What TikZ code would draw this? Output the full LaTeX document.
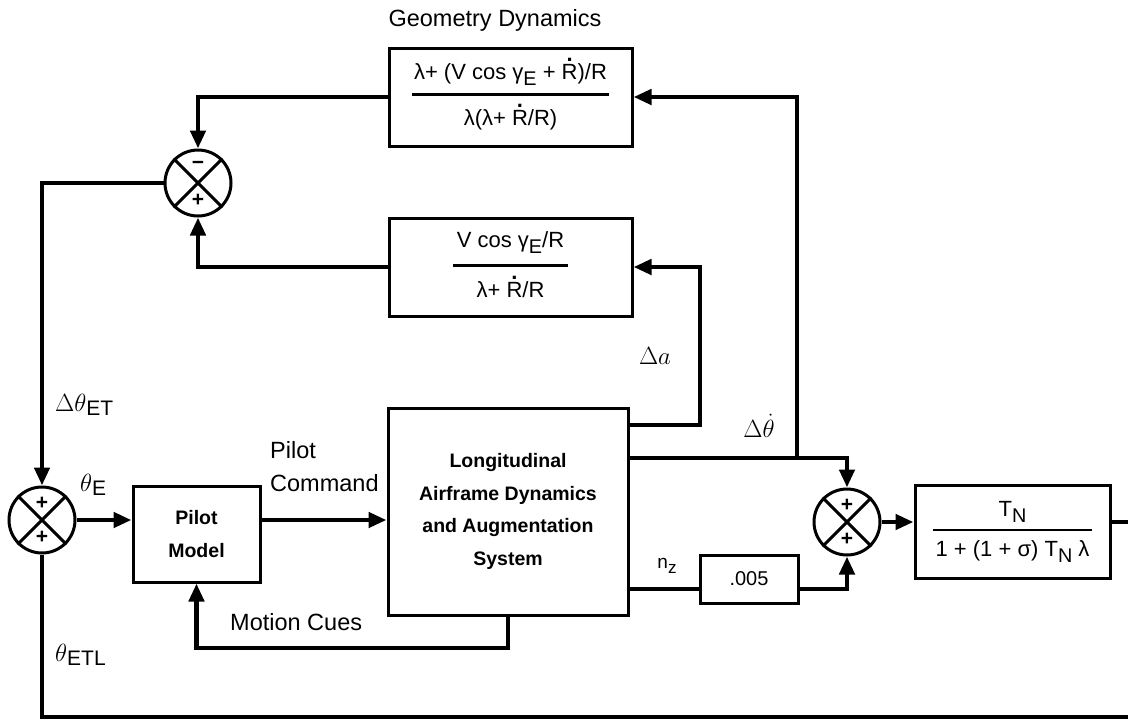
\documentclass[tikz,border=0pt]{standalone}
\usepackage[no-math]{fontspec}
\setmainfont{Liberation Sans}
\usepackage{amsmath}
\usepackage{graphicx}
\usetikzlibrary{arrows.meta,calc}
\newcommand\Rdt{\ooalign{R\cr\hidewidth\raisebox{0.8em}{\textbf{.}}\hidewidth\cr}}
\newcommand\sbs[1]{\raisebox{-0.28em}{\scalebox{0.9}{#1}}}
\newcommand\lsb[1]{\raisebox{-4pt}{\fontsize{21}{21}\selectfont #1}}
\newcommand\frc[5]{\begin{tabular}{@{\hspace{#3}}c@{\hspace{#3}}}#1\\\noalign{\vskip #4\hrule height 2.8pt\vskip #5}#2\end{tabular}}
\begin{document}
\begin{tikzpicture}[x=1pt,y=-1pt,
  box/.style={draw,line width=3pt,rectangle,inner sep=0pt,align=center,font=\fontsize{19.5}{32.5}\selectfont\bfseries},
  fbox/.style={draw,line width=3pt,rectangle,inner sep=0pt,align=center,font=\fontsize{22}{26}\selectfont},
  sumj/.style={draw,line width=3pt,circle,inner sep=0pt,minimum size=66pt},
  wire/.style={line width=4.5pt},
  arr/.style={wire,-{Triangle[length=18pt,width=15pt]}},
  lbl/.style={font=\fontsize{23.5}{28}\selectfont,inner sep=0pt},
  mlbl/.style={font=\fontsize{25}{28}\selectfont,inner sep=0pt},
  sgn/.style={font=\fontsize{21}{21}\selectfont\bfseries,inner sep=0pt},
]
\useasboundingbox (0,0) rectangle (1128,721);
% blocks
\node[fbox,minimum width=243pt,minimum height=98pt] (geo) at (510.5,97)
  {\frc{λ+ (V cos γ\sbs{E} + \Rdt)/R}{λ(λ+ \Rdt/R)}{2pt}{6pt}{11pt}};
\node[fbox,minimum width=243pt,minimum height=98pt] (cue) at (510.5,267)
  {\frc{V cos γ\sbs{E}/R}{λ+ \Rdt/R}{4pt}{9pt}{12pt}};
\node[box,minimum width=127pt,minimum height=96pt] (pilot) at (196.5,534) {Pilot\\Model};
\node[box,minimum width=240pt,minimum height=207pt] (af) at (508,511.5)
  {Longitudinal\\Airframe Dynamics\\and Augmentation\\System};
\node[fbox,font=\fontsize{20}{24}\selectfont,minimum width=98pt,minimum height=48pt] (d005) at (749,579) {.005};
\node[fbox,minimum width=195pt,minimum height=93pt] (tn) at (1012.5,531.5)
  {\frc{T\sbs{N}}{1 + (1 + σ) T\sbs{N} λ}{3pt}{4pt}{7pt}};
% summing junctions
\node[sumj] (s1) at (198,183) {};
\node[sumj] (s2) at (42,520) {};
\node[sumj] (s3) at (847,522) {};
\foreach \s in {s1,s2,s3}{
  \draw[line width=3pt] (\s.north east) -- (\s.south west) (\s.north west) -- (\s.south east);
}
\node[sgn] at ($(s1)+(0,-18)$) {−};
\node[sgn] at ($(s1)+(0,17)$) {+};
\node[sgn] at ($(s2)+(0,-17)$) {+};
\node[sgn] at ($(s2)+(0,17)$) {+};
\node[sgn] at ($(s3)+(0,-17)$) {+};
\node[sgn] at ($(s3)+(0,17)$) {+};
% helper coordinates
\coordinate (yth) at (0,458);
\coordinate (yal) at (0,425);
\coordinate (ynz) at (0,589);
\coordinate (ymc) at (0,648);
\coordinate (ybt) at (0,717);
\coordinate (xr) at (1128,0);
\coordinate (xth) at (797,0);
\coordinate (xal) at (700,0);
% connectors
\draw[arr] (af.east |- yth) -| (s3.north);
\draw[arr] (xth |- yth) |- (geo.east);
\draw[arr] (af.east |- yal) -- (xal |- yal) |- (cue.east);
\draw[arr] (geo.west) -| (s1.north);
\draw[arr] (cue.west) -| (s1.south);
\draw[arr] (s1.west) -| (s2.north);
\draw[arr] (s2.east) -- (pilot.west |- s2.east);
\draw[arr] (pilot.east |- s2.east) -- (af.west |- s2.east);
\draw[arr] (af.south) -- (af.south |- ymc) -| (pilot.south);
\draw[wire] (af.east |- ynz) -- (d005.west |- ynz);
\draw[arr] (d005.east |- ynz) -| (s3.south);
\draw[arr] (s3.east) -- (tn.west |- s3.east);
\draw[wire] (tn.east |- s3.east) -- (xr |- s3.east);
\draw[wire] (s2.south) |- (xr |- ybt);
% labels
\node[lbl] (lgeo) at (495,20) {Geometry Dynamics};
\node[mlbl,anchor=west] (ldet) at (55,405) {$\Delta\theta$\lsb{ET}};
\node[mlbl,anchor=west] (le) at (80,485) {$\theta$\lsb{E}};
\node[mlbl,anchor=west] (letl) at (55,655) {$\theta$\lsb{ETL}};
\node[lbl,anchor=west] (lp) at (270,450) {Pilot};
\node[lbl,anchor=west] (lc) at (270,483) {Command};
\node[lbl,anchor=west] (lmc) at (230,622) {Motion Cues};
\node[mlbl] (lal) at (655,356) {$\Delta a$};
\node[mlbl] (lth) at (759,426) {$\Delta\dot\theta$};
\node[lbl,font=\fontsize{19}{22}\selectfont] (lnz) at (667,566) {n\sbs{z}};
\end{tikzpicture}
\end{document}
